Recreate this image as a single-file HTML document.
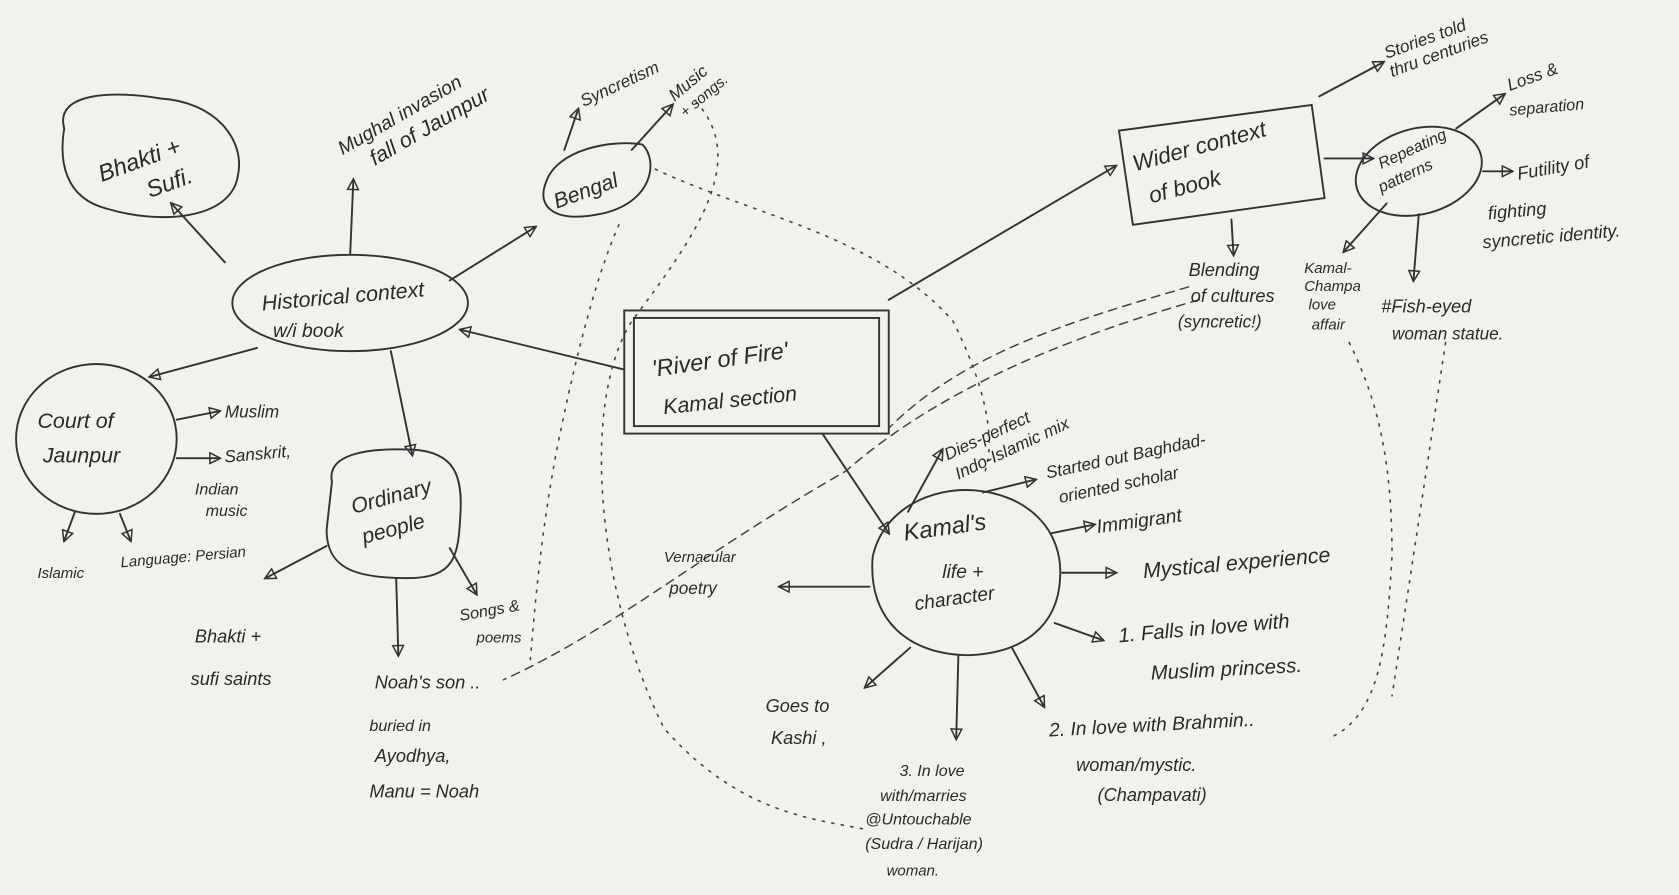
<!DOCTYPE html>
<html><head><meta charset="utf-8"><style>
html,body{margin:0;padding:0;background:#f2f1ed;}
svg{display:block}
text{font-family:"Liberation Sans",sans-serif;fill:#2a2a2a;font-style:italic}
</style></head><body>
<svg width="1679" height="895" viewBox="0 0 1568 836" preserveAspectRatio="none" xmlns="http://www.w3.org/2000/svg">
<defs>
<marker id="a" viewBox="0 0 12 12" refX="10" refY="6" markerWidth="12" markerHeight="12" markerUnits="userSpaceOnUse" orient="auto"><path d="M1,1 L11,6 L1,11 Z" fill="none" stroke="#333" stroke-width="1.4"/></marker>
</defs>
<rect width="1568" height="836" fill="#f2f1ed"/>
<g fill="none" stroke="#333" stroke-width="1.8" stroke-linecap="round">
<path d="M60,120 C50,85 110,85 150,92 C200,95 230,130 222,165 C215,205 150,210 100,195 C60,185 55,150 60,120 Z"/>
<ellipse cx="327" cy="283" rx="110" ry="45"/>
<path d="M510,170 C520,140 570,130 600,135 C615,150 610,190 560,200 C520,208 500,195 510,170 Z"/>
<rect x="583" y="290" width="247" height="115"/>
<rect x="592" y="297" width="229" height="101"/>
<path d="M1045,122 L1225,98 L1237,185 L1058,210 Z"/>
<ellipse cx="1325" cy="160" rx="60" ry="40" transform="rotate(-15 1325 160)"/>
<ellipse cx="90" cy="410" rx="75" ry="70"/>
<path d="M310,450 C305,425 340,418 385,420 C425,422 432,445 430,480 C428,520 425,540 380,540 C330,540 305,530 305,495 Z"/>
<path d="M815,520 C825,475 870,455 910,458 C960,462 993,495 990,540 C988,585 955,610 905,612 C850,612 810,580 815,520 Z"/>

<line x1="210" y1="245" x2="160" y2="190" marker-end="url(#a)"/>
<line x1="327" y1="238" x2="330" y2="168" marker-end="url(#a)"/>
<line x1="420" y1="262" x2="500" y2="212" marker-end="url(#a)"/>
<line x1="527" y1="140" x2="540" y2="102" marker-end="url(#a)"/>
<line x1="590" y1="140" x2="628" y2="98" marker-end="url(#a)"/>
<line x1="582" y1="345" x2="430" y2="308" marker-end="url(#a)"/>
<line x1="830" y1="280" x2="1042" y2="155" marker-end="url(#a)"/>
<line x1="1232" y1="90" x2="1292" y2="58" marker-end="url(#a)"/>
<line x1="1237" y1="148" x2="1282" y2="148" marker-end="url(#a)"/>
<line x1="1150" y1="205" x2="1152" y2="238" marker-end="url(#a)"/>
<line x1="1360" y1="120" x2="1405" y2="88" marker-end="url(#a)"/>
<line x1="1385" y1="160" x2="1412" y2="160" marker-end="url(#a)"/>
<line x1="1295" y1="190" x2="1255" y2="235" marker-end="url(#a)"/>
<line x1="1325" y1="200" x2="1320" y2="262" marker-end="url(#a)"/>
<line x1="240" y1="325" x2="140" y2="352" marker-end="url(#a)"/>
<line x1="365" y1="328" x2="385" y2="425" marker-end="url(#a)"/>
<line x1="165" y1="392" x2="205" y2="384" marker-end="url(#a)"/>
<line x1="165" y1="428" x2="205" y2="428" marker-end="url(#a)"/>
<line x1="70" y1="478" x2="60" y2="505" marker-end="url(#a)"/>
<line x1="112" y1="480" x2="122" y2="505" marker-end="url(#a)"/>
<line x1="305" y1="510" x2="248" y2="540" marker-end="url(#a)"/>
<line x1="370" y1="540" x2="372" y2="612" marker-end="url(#a)"/>
<line x1="420" y1="512" x2="445" y2="555" marker-end="url(#a)"/>
<line x1="768" y1="405" x2="830" y2="498" marker-end="url(#a)"/>
<line x1="848" y1="478" x2="880" y2="420" marker-end="url(#a)"/>
<line x1="918" y1="460" x2="967" y2="448" marker-end="url(#a)"/>
<line x1="982" y1="498" x2="1022" y2="490" marker-end="url(#a)"/>
<line x1="992" y1="535" x2="1042" y2="535" marker-end="url(#a)"/>
<line x1="812" y1="548" x2="728" y2="548" marker-end="url(#a)"/>
<line x1="985" y1="582" x2="1030" y2="598" marker-end="url(#a)"/>
<line x1="850" y1="605" x2="808" y2="642" marker-end="url(#a)"/>
<line x1="895" y1="612" x2="893" y2="690" marker-end="url(#a)"/>
<line x1="945" y1="605" x2="975" y2="660" marker-end="url(#a)"/>
</g>
<g fill="none" stroke="#444" stroke-width="1.5" stroke-dasharray="2 7" stroke-linecap="round">
<path d="M650,95 C700,150 650,220 590,300 C540,380 560,560 620,680 C690,760 760,765 810,775"/>
<path d="M612,158 C700,200 820,220 890,300 C920,360 930,410 920,440"/>
<path d="M578,210 C560,250 540,320 520,420 C505,500 500,560 495,620"/>
<path d="M1260,320 C1290,380 1300,440 1300,520 C1295,600 1290,670 1240,690"/>
<path d="M1350,320 C1335,420 1320,520 1300,650"/>
</g>
<g fill="none" stroke="#444" stroke-width="1.4" stroke-dasharray="8 6" stroke-linecap="round">
<path d="M1110,268 C1000,300 900,330 830,400"/>
<path d="M1120,280 C980,320 870,370 790,440 C650,520 570,590 470,635"/>
</g>

<text x="95" y="170" font-size="22" transform="rotate(-20 95 170)">Bhakti +</text>
<text x="140" y="185" font-size="22" transform="rotate(-20 140 185)">Sufi.</text>
<text x="320" y="145" font-size="18" transform="rotate(-30 320 145)">Mughal invasion</text>
<text x="350" y="155" font-size="20" transform="rotate(-30 350 155)">fall of Jaunpur</text>
<text x="545" y="100" font-size="16" transform="rotate(-25 545 100)">Syncretism</text>
<text x="630" y="95" font-size="16" transform="rotate(-40 630 95)">Music</text>
<text x="640" y="110" font-size="14" transform="rotate(-40 640 110)">+ songs.</text>
<text x="520" y="195" font-size="20" transform="rotate(-20 520 195)">Bengal</text>
<text x="245" y="290" font-size="20" transform="rotate(-5 245 290)">Historical context</text>
<text x="255" y="315" font-size="18">w/i book</text>
<text x="610" y="352" font-size="22" transform="rotate(-8 610 352)">'River of Fire'</text>
<text x="620" y="387" font-size="20" transform="rotate(-6 620 387)">Kamal section</text>
<text x="1060" y="160" font-size="21" transform="rotate(-15 1060 160)">Wider context</text>
<text x="1075" y="190" font-size="21" transform="rotate(-15 1075 190)">of book</text>
<text x="1295" y="55" font-size="16" transform="rotate(-20 1295 55)">Stories told</text>
<text x="1300" y="72" font-size="16" transform="rotate(-20 1300 72)">thru centuries</text>
<text x="1290" y="158" font-size="15" transform="rotate(-25 1290 158)">Repeating</text>
<text x="1290" y="180" font-size="15" transform="rotate(-25 1290 180)">patterns</text>
<text x="1410" y="85" font-size="16" transform="rotate(-20 1410 85)">Loss &amp;</text>
<text x="1410" y="108" font-size="15" transform="rotate(-5 1410 108)">separation</text>
<text x="1418" y="168" font-size="17" transform="rotate(-10 1418 168)">Futility of</text>
<text x="1390" y="205" font-size="17" transform="rotate(-5 1390 205)">fighting</text>
<text x="1385" y="232" font-size="17" transform="rotate(-5 1385 232)">syncretic identity.</text>
<text x="1110" y="258" font-size="17">Blending</text>
<text x="1112" y="282" font-size="17">of cultures</text>
<text x="1100" y="306" font-size="16">(syncretic!)</text>
<text x="1218" y="255" font-size="14">Kamal-</text>
<text x="1218" y="272" font-size="14">Champa</text>
<text x="1222" y="289" font-size="14">love</text>
<text x="1225" y="308" font-size="14">affair</text>
<text x="1290" y="292" font-size="17">#Fish-eyed</text>
<text x="1300" y="317" font-size="16">woman statue.</text>
<text x="35" y="400" font-size="20">Court of</text>
<text x="40" y="432" font-size="20">Jaunpur</text>
<text x="210" y="390" font-size="16">Muslim</text>
<text x="210" y="432" font-size="16" transform="rotate(-5 210 432)">Sanskrit,</text>
<text x="182" y="462" font-size="15">Indian</text>
<text x="192" y="482" font-size="15">music</text>
<text x="35" y="540" font-size="14">Islamic</text>
<text x="113" y="530" font-size="14" transform="rotate(-5 113 530)">Language: Persian</text>
<text x="330" y="480" font-size="20" transform="rotate(-15 330 480)">Ordinary</text>
<text x="340" y="508" font-size="20" transform="rotate(-15 340 508)">people</text>
<text x="182" y="600" font-size="17">Bhakti +</text>
<text x="178" y="640" font-size="17">sufi saints</text>
<text x="430" y="580" font-size="15" transform="rotate(-10 430 580)">Songs &amp;</text>
<text x="445" y="600" font-size="14">poems</text>
<text x="350" y="643" font-size="17">Noah's son ..</text>
<text x="345" y="683" font-size="15">buried in</text>
<text x="350" y="712" font-size="17">Ayodhya,</text>
<text x="345" y="745" font-size="17">Manu = Noah</text>
<text x="620" y="525" font-size="14">Vernacular</text>
<text x="625" y="555" font-size="16">poetry</text>
<text x="845" y="505" font-size="22" transform="rotate(-8 845 505)">Kamal's</text>
<text x="880" y="540" font-size="18">life +</text>
<text x="855" y="570" font-size="18" transform="rotate(-8 855 570)">character</text>
<text x="885" y="430" font-size="16" transform="rotate(-25 885 430)">Dies-perfect</text>
<text x="895" y="448" font-size="16" transform="rotate(-25 895 448)">Indo-Islamic mix</text>
<text x="978" y="447" font-size="16" transform="rotate(-12 978 447)">Started out Baghdad-</text>
<text x="990" y="470" font-size="16" transform="rotate(-12 990 470)">oriented scholar</text>
<text x="1025" y="498" font-size="18" transform="rotate(-8 1025 498)">Immigrant</text>
<text x="1068" y="540" font-size="20" transform="rotate(-5 1068 540)">Mystical experience</text>
<text x="1045" y="600" font-size="19" transform="rotate(-5 1045 600)">1. Falls in love with</text>
<text x="1075" y="635" font-size="19" transform="rotate(-3 1075 635)">Muslim princess.</text>
<text x="980" y="688" font-size="18" transform="rotate(-3 980 688)">2. In love with Brahmin..</text>
<text x="1005" y="720" font-size="17">woman/mystic.</text>
<text x="1025" y="748" font-size="17">(Champavati)</text>
<text x="715" y="665" font-size="17">Goes to</text>
<text x="720" y="695" font-size="17">Kashi ,</text>
<text x="840" y="725" font-size="15">3. In love</text>
<text x="822" y="748" font-size="15">with/marries</text>
<text x="808" y="770" font-size="15">@Untouchable</text>
<text x="808" y="793" font-size="15">(Sudra / Harijan)</text>
<text x="828" y="818" font-size="14">woman.</text>
</svg>
</body></html>
